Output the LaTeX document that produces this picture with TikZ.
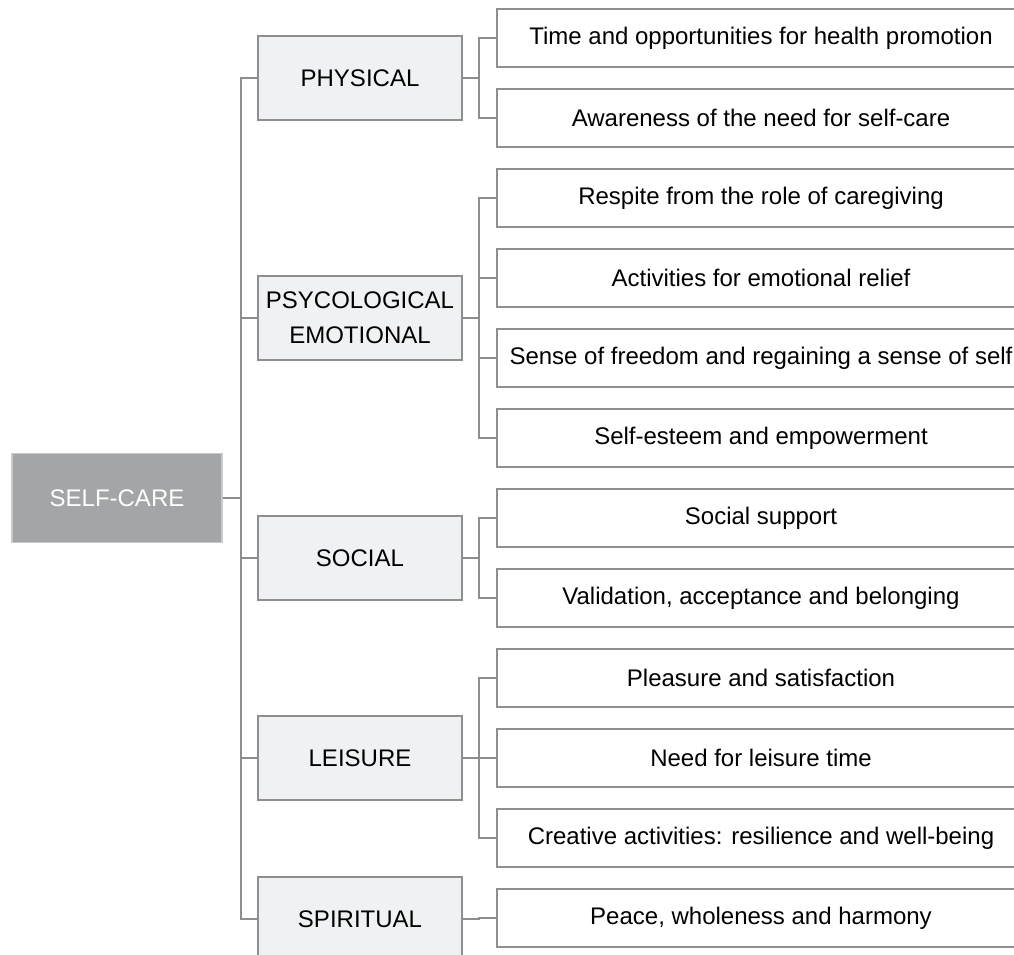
\documentclass[tikz,border=0pt]{standalone}
\usepackage{fontspec}
\setmainfont{Liberation Sans}
\definecolor{linegray}{HTML}{8E8E8E}
\definecolor{rootgray}{HTML}{A3A5A6}
\definecolor{catfill}{HTML}{EFF1F2}
\begin{document}
\begin{tikzpicture}[x=0.75pt,y=-0.75pt,
  every node/.style={font=\fontsize{18}{26}\selectfont, inner sep=0pt, align=center},
  root/.style={draw=rootgray!60, line width=1pt, fill=rootgray, text=white, minimum width=157.5pt, minimum height=66.75pt},
  cat/.style={draw=linegray, line width=1.5pt, fill=catfill, minimum width=153pt, minimum height=63pt},
  leaf/.style={draw=linegray, line width=1.5pt, fill=white, minimum width=396pt, minimum height=43.5pt},
  link/.style={draw=linegray, line width=1.5pt}]
 \useasboundingbox (0,0) rectangle (1014,955);
 \clip (0,0) rectangle (1014,955);
 \node[root] (selfcare) at (117,498) {SELF-CARE};
 \node[cat] (physical)  at (360,78)  {PHYSICAL};
 \node[cat] (psych)     at (360,318) {PSYCOLOGICAL\\EMOTIONAL};
 \node[cat] (social)    at (360,558) {SOCIAL};
 \node[cat] (leisure)   at (360,758) {LEISURE};
 \node[cat] (spiritual) at (360,919) {SPIRITUAL};
 \foreach \n/\y/\t in {l1/38/Time and opportunities for health promotion,
                       l2/118/Awareness of the need for self-care,
                       l3/198/Respite from the role of caregiving,
                       l4/278/Activities for emotional relief,
                       l5/358/Sense of freedom and regaining a sense of self,
                       l6/438/Self-esteem and empowerment,
                       l7/518/Social support,
                       l8/598/{Validation, acceptance and belonging},
                       l9/678/Pleasure and satisfaction,
                       l10/758/Need for leisure time,
                       l11/838/Creative activities: resilience and well-being,
                       l12/918/{Peace, wholeness and harmony}}
   \node[leaf] (\n) at (761,\y) {\t};
 % trunk from the root to each area
 \foreach \c in {physical,psych,social,leisure,spiritual}
   \draw[link] (selfcare.east) -- ++(18,0) |- (\c.west);
 % areas to their items
 \foreach \c/\l in {physical/l1,physical/l2,psych/l3,psych/l4,psych/l5,psych/l6,
                    social/l7,social/l8,leisure/l9,leisure/l10,leisure/l11,spiritual/l12}
   \draw[link] (\c.east) -- ++(16,0) |- (\l.west);
\end{tikzpicture}
\end{document}
